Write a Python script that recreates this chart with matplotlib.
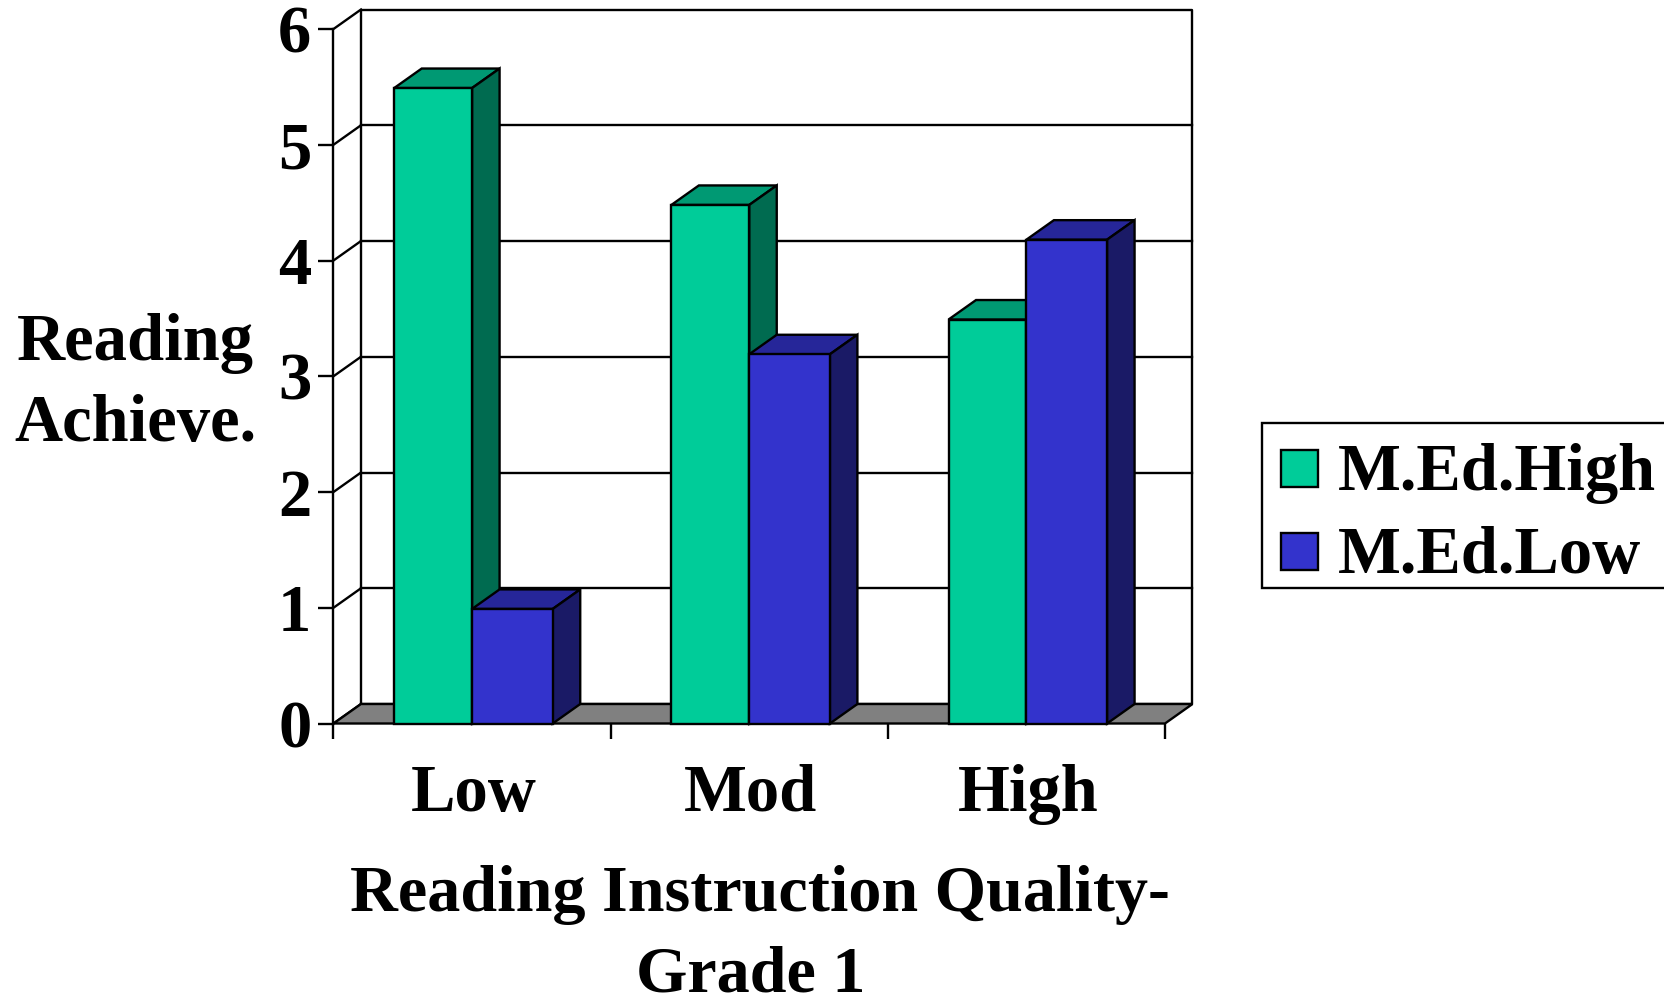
import matplotlib
matplotlib.use("Agg")
import matplotlib.pyplot as plt
from matplotlib.lines import Line2D
from matplotlib.patches import Rectangle
from matplotlib.transforms import ScaledTranslation

plt.rcParams['font.family'] = ['Liberation Serif', 'DejaVu Serif']
plt.rcParams['font.weight'] = 'bold'

categories = ["Low", "Mod", "High"]
series_names = ["M.Ed.High", "M.Ed.Low"]
med_high = [5.49, 4.48, 3.49]
med_low = [0.99, 3.19, 4.18]
y_ticks = [0, 1, 2, 3, 4, 5, 6]

W, H = 1665, 994
X0, X1, Y0, Y6 = 333.5, 1165.0, 723.5, 29.0
fig = plt.figure(figsize=(W / 100, H / 100), dpi=100, facecolor='white')
ax = fig.add_axes([X0 / W, 1 - Y0 / H, (X1 - X0) / W, (Y0 - Y6) / H])
ax.set_xlim(0, 3)
ax.set_ylim(0, 6)
ax.set_facecolor('none')
for s in ax.spines.values():
    s.set_visible(False)

LW = 1.7
FS = 48
DX = 27.5 / ((X1 - X0) / 3)
DY = 19.5 / ((Y0 - Y6) / 6)
BW_GREEN = 0.281
BW_BLUE = 0.291
nx = len(categories)
top = y_ticks[-1]

GREEN = ("#00CC99", "#009973", "#006B50")
BLUE = ("#3333CC", "#262699", "#1A1A66")
GRAY = "#808080"


def line(xs, ys, z=1):
    ax.add_line(Line2D(xs, ys, color='black', lw=LW, zorder=z, clip_on=False,
                       solid_capstyle='projecting'))


# walls and floor
ax.fill([0, nx, nx + DX, DX], [0, 0, DY, DY], facecolor=GRAY, edgecolor='black',
        lw=LW, zorder=2, clip_on=False)
line([DX, nx + DX, nx + DX, DX, DX], [DY, DY, top + DY, top + DY, DY])
line([0, 0], [0, top])
for t in y_ticks:
    line([0, DX], [t, t + DY])
    if 0 < t < top:
        line([DX, nx + DX], [t + DY, t + DY])


def bar3d(x, w, v, name, cols, z):
    ax.fill([x, x + w, x + w + DX, x + DX], [v, v, v + DY, v + DY], facecolor=cols[1],
            edgecolor='black', lw=LW, zorder=z, clip_on=False)
    ax.fill([x + w, x + w + DX, x + w + DX, x + w], [0, DY, v + DY, v], facecolor=cols[2],
            edgecolor='black', lw=LW, zorder=z, clip_on=False)
    ax.bar(x, v, w, align='edge', color=cols[0], edgecolor='black', lw=LW, zorder=z + 0.5,
           clip_on=False, label=name)


for i in range(nx):
    c = i + 0.5
    bar3d(c - BW_GREEN, BW_GREEN, med_high[i], series_names[0] if i == 0 else None, GREEN, 3 + i * 2)
    bar3d(c, BW_BLUE, med_low[i], series_names[1] if i == 0 else None, BLUE, 4 + i * 2)

# axes ticks and labels
ax.set_yticks(y_ticks)
ax.set_yticklabels([str(t) for t in y_ticks], fontsize=FS, fontweight='bold', va='center_baseline')
ax.tick_params(axis='y', length=11, width=LW, pad=5)
ax.set_xticks(range(nx + 1))
ax.set_xticklabels([])
ax.tick_params(axis='x', which='major', length=11, width=LW)
ax.set_xticks([i + 0.5 for i in range(nx)], minor=True)
ax.set_xticklabels(categories, minor=True, fontsize=FS, fontweight='bold')
ax.tick_params(axis='x', which='minor', length=0, pad=29)
shift = ScaledTranslation(1.5 / 100, 0, fig.dpi_scale_trans)
for lab in ax.get_xticklabels(minor=True):
    lab.set_transform(lab.get_transform() + shift)

fig.text(135 / W, 1 - 344 / H, "Reading", fontsize=FS, fontweight='bold', ha='center', va='center')
fig.text(135 / W, 1 - 425 / H, "Achieve.", fontsize=FS, fontweight='bold', ha='center', va='center')
fig.text(350 / W, 1 - 911 / H, "Reading Instruction Quality-", fontsize=47.6, fontweight='bold',
         ha='left', va='baseline')
fig.text(751 / W, 1 - 991 / H, "Grade 1", fontsize=47.6, fontweight='bold', ha='center', va='baseline')

# legend frame runs off the right edge of the picture, as in the source
fig.add_artist(Rectangle((1262 / W, 1 - 588 / H), 420 / W, 165 / H, transform=fig.transFigure,
                         facecolor='white', edgecolor='black', lw=LW, zorder=5))
leg = fig.legend(*ax.get_legend_handles_labels(), loc='upper left',
                 bbox_to_anchor=(1260.5 / W, 1 - 422 / H),
                 bbox_transform=fig.transFigure, borderaxespad=0, frameon=False,
                 prop={'family': 'Liberation Serif', 'weight': 'bold', 'size': FS},
                 handlelength=0.56, handleheight=0.47, handletextpad=0.29,
                 borderpad=0.31, labelspacing=0.33)
leg.set_zorder(20)
for h in leg.legend_handles:
    h.set_y(h.get_y() - 2)

fig.savefig("out.png", dpi=100, facecolor='white')
